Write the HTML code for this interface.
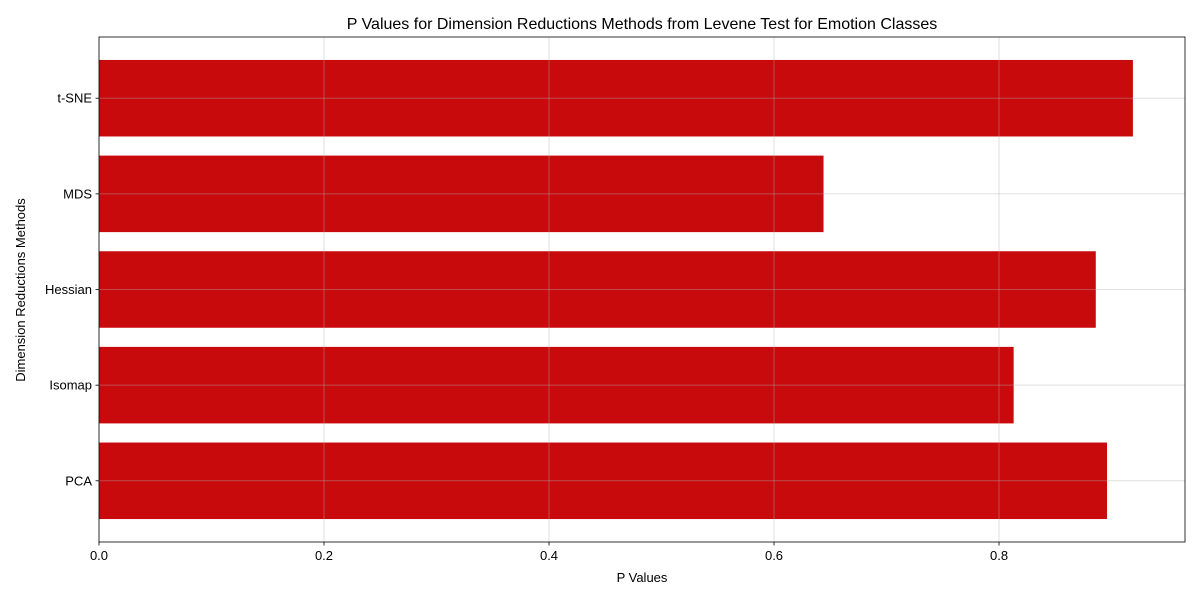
<!DOCTYPE html>
<html><head><meta charset="utf-8"><style>
body{margin:0;background:#fff;}
svg{font-family:"Liberation Sans","DejaVu Sans",sans-serif;}
</style></head><body>
<svg id="chart" width="1200" height="600">
<rect width="1200" height="600" fill="#fff"/>
<text x="642" y="29" font-size="16" text-anchor="middle">P Values for Dimension Reductions Methods from Levene Test for Emotion Classes</text>
<text x="642" y="582" font-size="13" text-anchor="middle">P Values</text>
<text x="25" y="290" font-size="13" text-anchor="middle" transform="rotate(-90 25 290)">Dimension Reductions Methods</text>
<g id="bars"></g>
<g id="grid"></g>
<g id="axes"></g>
</svg>
<script>
const categories = ["PCA","Isomap","Hessian","MDS","t-SNE"];
const pValues = [0.896, 0.813, 0.886, 0.644, 0.919];
const xTicks = [0, 0.2, 0.4, 0.6, 0.8];
const xTickLabels = ["0.0","0.2","0.4","0.6","0.8"];

const L=99,R=1185,T=37,B=542;
const xMin=0,xMax=0.9653;
const yMin=-0.64,yMax=4.64;
const NS="http://www.w3.org/2000/svg";
function x(v){return L+(v-xMin)/(xMax-xMin)*(R-L);}
function y(i){return B-(i-yMin)/(yMax-yMin)*(B-T);}
function mk(tag,attrs,parent){const e=document.createElementNS(NS,tag);for(const k in attrs)e.setAttribute(k,attrs[k]);parent.appendChild(e);return e;}
const bars=document.getElementById('bars'),grid=document.getElementById('grid'),axes=document.getElementById('axes');
const bh=(y(0)-y(0.8));
const gridStyle={stroke:'#b0b0b0','stroke-opacity':0.4,'stroke-width':1};
categories.forEach((c,i)=>{
  const r=mk('rect',{x:x(0),y:y(i)-bh/2,width:x(pValues[i])-x(0),height:bh,fill:'#c80a0c'},bars);
  
  
  const g=mk('line',Object.assign({x1:L,x2:R,y1:y(i),y2:y(i)},gridStyle),grid);
  
  
  const tk=mk('line',{x1:L-3.5,x2:L,y1:y(i),y2:y(i),stroke:'#000','stroke-width':0.8},axes);
  
  
  const t=mk('text',{x:L-7,y:y(i)+4.5,'font-size':13,'text-anchor':'end'},axes);
  t.textContent=c;
  
  
});
xTicks.forEach((v,j)=>{
  const g=mk('line',Object.assign({x1:x(v),x2:x(v),y1:T,y2:B},gridStyle),grid);
  
  
  const tk=mk('line',{x1:x(v),x2:x(v),y1:B,y2:B+3.5,stroke:'#000','stroke-width':0.8},axes);
  
  
  const t=mk('text',{x:x(v),y:B+18,'font-size':13,'text-anchor':'middle'},axes);
  t.textContent=xTickLabels[j];
  
  
});
const frame=mk('rect',{x:L,y:T,width:R-L,height:B-T,fill:'none',stroke:'#000','stroke-width':0.8},axes);


</script>
</body></html>
